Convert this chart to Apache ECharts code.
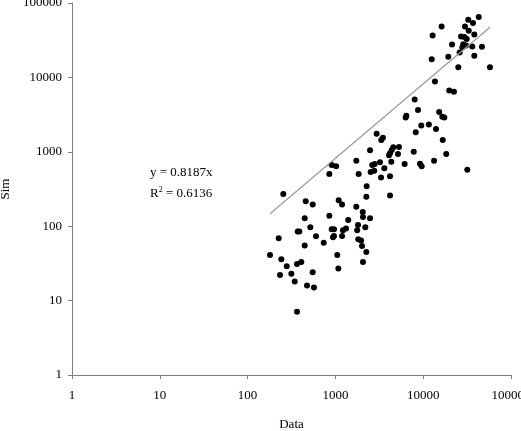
<!DOCTYPE html>
<html>
<head>
<meta charset="utf-8">
<script src="https://cdn.jsdelivr.net/npm/echarts/dist/echarts.min.js"></script>
<style>
html,body{margin:0;padding:0;background:#fff;}
#chart{width:521px;height:431px;}
</style>
</head>
<body>
<div id="chart"></div>
<script>
// measured values (Data, Sim)
var dataX = [42900,32600,36900,16200,29900,33000,38200,12800,27000,29400,31300,21300,28600,30700,27900,36200,46700,26000,19300,38200,12500,25100,57600,13600,19800,22400,8000,8730,15200,6420,6320,16500,17400,9510,11600,14000,2950,3480,3330,8220,16700,2480,4570,5300,4380,4190,4080,5160,7800,18300,1730,13300,
    908,1020,2630,2800,3220,4330,6150,9200,9610,31800,853,1840,2520,2770,3610,3310,4190,2270,
    2250,4190,255,459,551,1090,1190,1730,2050,2060,2480,853,447,1400,1810,2190,518,372,388,908,964,1220,1320,1770,601,939,
    964,1190,226,736,1820,1960,447,2010,2250,180,1050,242,409,365,2060,279,1080,234,315,551,344,475,570,365]
var simY = [64800,59600,53800,48400,48400,42400,37800,36600,35500,34800,32700,27700,28000,26800,25200,26000,25800,21600,18900,19500,17600,13700,13700,8790,6650,6390,5030,3650,3430,3060,2880,2970,2880,2250,2320,2030,1750,1550,1440,1830,1440,1050,1150,1160,1060,955,897,934,1000,934,758,758,
    664,637,664,685,722,735,685,691,637,574,502,502,534,556,599,453,468,343,
    248,259,270,217,196,224,196,182,155,133,128,138,128,121,104,97,97,85,85,91,91,88,93,88,73,71,
    74,74,69,60,67,64,55,54,45,41,41,36,33,31,33,29,27,22,23,24,18,16,15,7.1]

// trendline end points (y = 0.8187x)
var trendX = [180,57600]
var trendY = [147,47200]

var eqText = 'y = 0.8187x'
var r2Text = '{a|R}{s|2}{a| = 0.6136}'

var points = dataX.map(function(v,i){return [v,simY[i]]})
var trend = trendX.map(function(v,i){return [v,trendY[i]]})

var chart = echarts.init(document.getElementById('chart'))
var axisFont = {fontFamily:'Liberation Serif',fontSize:13,color:'#000'}
var option = {
    animation:false,
    grid:{left:72,right:10,top:3,bottom:56,containLabel:false,outerBoundsMode:'none'},
    xAxis:{
        type:'log',logBase:10,min:1,max:100000,
        name:'Data',nameLocation:'middle',nameGap:43,
        nameTextStyle:axisFont,
        axisLine:{lineStyle:{color:'#808080',width:1}},
        axisTick:{inside:false,length:4,lineStyle:{color:'#808080'}},
        axisLabel:Object.assign({margin:14,hideOverlap:false,formatter:function(v){return String(v)}},axisFont),
        splitLine:{show:false},minorTick:{show:false}
    },
    yAxis:{
        type:'log',logBase:10,min:1,max:100000,
        name:'Sim',nameLocation:'middle',nameGap:60,
        nameTextStyle:axisFont,
        axisLine:{lineStyle:{color:'#808080',width:1}},
        axisTick:{inside:false,length:4,lineStyle:{color:'#808080'}},
        axisLabel:Object.assign({margin:10,hideOverlap:false,formatter:function(v){return String(v)}},axisFont),
        splitLine:{show:false},minorTick:{show:false}
    },
    graphic:[
        {type:'text',left:150,top:166,style:{text:eqText,font:'13px "Liberation Serif"',fill:'#000'}},
        {type:'text',left:150,top:186,style:{
            text:r2Text,
            rich:{
                a:{fontFamily:'Liberation Serif',fontSize:13,fill:'#000',color:'#000'},
                s:{fontFamily:'Liberation Serif',fontSize:8,verticalAlign:'top',padding:[0,0,8,0],color:'#000'}
            }
        }}
    ],
    series:[
        {
            type:'line',data:trend,symbol:'none',silent:true,
            lineStyle:{color:'#999999',width:1.2}
        },
        {
            type:'scatter',data:points,symbol:'circle',symbolSize:6,
            itemStyle:{color:'#000',opacity:1}
        }
    ]
}
chart.setOption(option)
</script>
</body>
</html>
